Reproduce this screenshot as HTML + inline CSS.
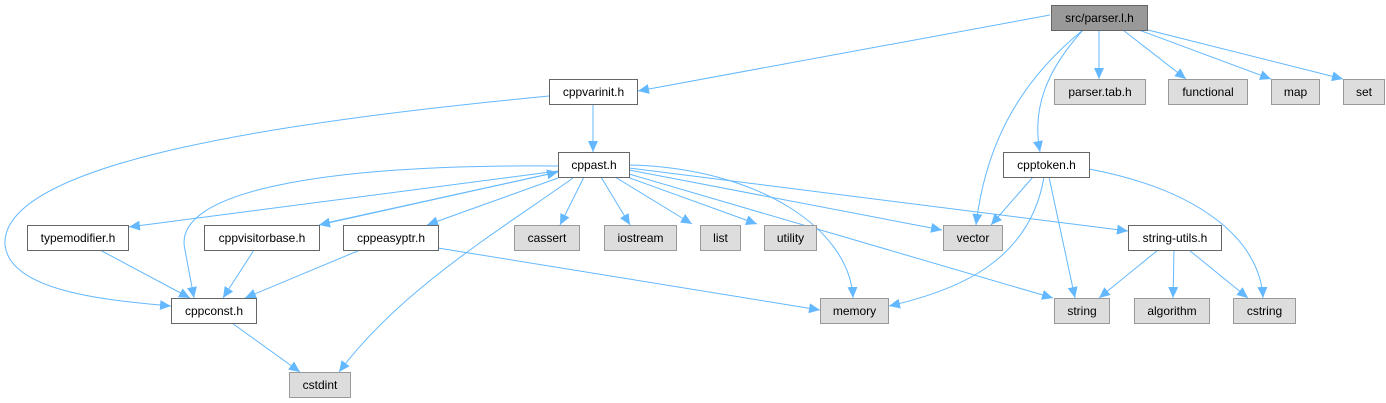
<!DOCTYPE html>
<html><head><meta charset="utf-8"><style>
html,body{margin:0;padding:0;background:#fff;}
svg{display:block;}
text{font-family:"Liberation Sans",Helvetica,sans-serif;font-size:12px;fill:#000;}
</style></head><body>
<svg width="1386" height="403" viewBox="0 0 1386 403" xmlns="http://www.w3.org/2000/svg">
<defs>
<marker id="a" markerUnits="userSpaceOnUse" markerWidth="12" markerHeight="10" refX="11" refY="5" orient="auto">
<path d="M0,0 L11,5 L0,10 Z" fill="#63b8ff"/>
</marker>
</defs>
<g fill="none" stroke="#63b8ff" stroke-width="1" marker-end="url(#a)">
<path d="M1050,15 L638,91"/>
<path d="M1083,30 C1015,85 985,150 976,225"/>
<path d="M1083,30 C1045,72 1032,110 1040,152"/>
<path d="M1099,30 L1099,79"/>
<path d="M1123,30 L1186,79"/>
<path d="M1139,30 L1271,79"/>
<path d="M1148,30 L1343,79"/>
<path d="M593,104 L593,152"/>
<path d="M549,96 C300,120 0,160 5,245 C10,290 100,300 171,306"/>
<path d="M558,171 L129,227"/>
<path d="M558,166 C330,164 170,190 185,250 L194,298"/>
<path d="M558,172 L319,225"/>
<path d="M326,223 L558,172"/>
<path d="M558,178 L427,225"/>
<path d="M573,178 C500,230 400,290 339,372"/>
<path d="M584,177 L560,225"/>
<path d="M601,177 L630,225"/>
<path d="M615,177 L692,224"/>
<path d="M627,177 L757,224"/>
<path d="M629,170 L942,230"/>
<path d="M629,174 L1053,298"/>
<path d="M629,165 C760,168 850,230 853,298"/>
<path d="M629,168 L1128,231"/>
<path d="M254,250 L223,298"/>
<path d="M100,250 L190,298"/>
<path d="M360,250 L245,298"/>
<path d="M438,248 L820,310"/>
<path d="M232,323 L300,372"/>
<path d="M1033,177 L991,225"/>
<path d="M1049,177 L1075,298"/>
<path d="M1044,177 C1030,260 960,290 889,306"/>
<path d="M1089,169 C1200,190 1260,240 1263,298"/>
<path d="M1158,250 L1099,298"/>
<path d="M1174,250 L1173,298"/>
<path d="M1189,250 L1248,298"/>
</g>
<g stroke-width="1">
<rect x="1051.5" y="5.5" width="96" height="25" fill="#999" stroke="#666"/>
<rect x="549.5" y="79.5" width="88" height="25" fill="#fff" stroke="#666"/>
<rect x="1054.5" y="79.5" width="91" height="25" fill="#ddd" stroke="#999"/>
<rect x="1168.5" y="79.5" width="79" height="25" fill="#ddd" stroke="#999"/>
<rect x="1271.5" y="79.5" width="48" height="25" fill="#ddd" stroke="#999"/>
<rect x="1343.5" y="79.5" width="41" height="25" fill="#ddd" stroke="#999"/>
<rect x="558.5" y="152.5" width="71" height="25" fill="#fff" stroke="#666"/>
<rect x="1003.5" y="152.5" width="86" height="25" fill="#fff" stroke="#666"/>
<rect x="27.5" y="225.5" width="101" height="25" fill="#fff" stroke="#666"/>
<rect x="204.5" y="225.5" width="115" height="25" fill="#fff" stroke="#666"/>
<rect x="343.5" y="225.5" width="95" height="25" fill="#fff" stroke="#666"/>
<rect x="514.5" y="225.5" width="65" height="25" fill="#ddd" stroke="#999"/>
<rect x="604.5" y="225.5" width="72" height="25" fill="#ddd" stroke="#999"/>
<rect x="700.5" y="225.5" width="40" height="25" fill="#ddd" stroke="#999"/>
<rect x="764.5" y="225.5" width="52" height="25" fill="#ddd" stroke="#999"/>
<rect x="943.5" y="225.5" width="59" height="25" fill="#ddd" stroke="#999"/>
<rect x="1128.5" y="225.5" width="93" height="25" fill="#fff" stroke="#666"/>
<rect x="171.5" y="298.5" width="85" height="25" fill="#fff" stroke="#666"/>
<rect x="820.5" y="298.5" width="68" height="25" fill="#ddd" stroke="#999"/>
<rect x="1054.5" y="298.5" width="55" height="25" fill="#ddd" stroke="#999"/>
<rect x="1134.5" y="298.5" width="75" height="25" fill="#ddd" stroke="#999"/>
<rect x="1233.5" y="298.5" width="62" height="25" fill="#ddd" stroke="#999"/>
<rect x="289.5" y="372.5" width="61" height="25" fill="#ddd" stroke="#999"/>
</g>
<g text-anchor="middle">
<text x="1099.5" y="22">src/parser.l.h</text>
<text x="593.5" y="96">cppvarinit.h</text>
<text x="1100" y="96">parser.tab.h</text>
<text x="1208" y="96">functional</text>
<text x="1295.5" y="96">map</text>
<text x="1364" y="96">set</text>
<text x="594" y="169">cppast.h</text>
<text x="1046.5" y="169">cpptoken.h</text>
<text x="78" y="242">typemodifier.h</text>
<text x="262" y="242">cppvisitorbase.h</text>
<text x="391" y="242">cppeasyptr.h</text>
<text x="547" y="242">cassert</text>
<text x="640.5" y="242">iostream</text>
<text x="720.5" y="242">list</text>
<text x="790.5" y="242">utility</text>
<text x="973" y="242">vector</text>
<text x="1175" y="242">string-utils.h</text>
<text x="214" y="315">cppconst.h</text>
<text x="854.5" y="315">memory</text>
<text x="1082" y="315">string</text>
<text x="1172" y="315">algorithm</text>
<text x="1264.5" y="315">cstring</text>
<text x="320" y="389">cstdint</text>
</g>
</svg>
</body></html>
